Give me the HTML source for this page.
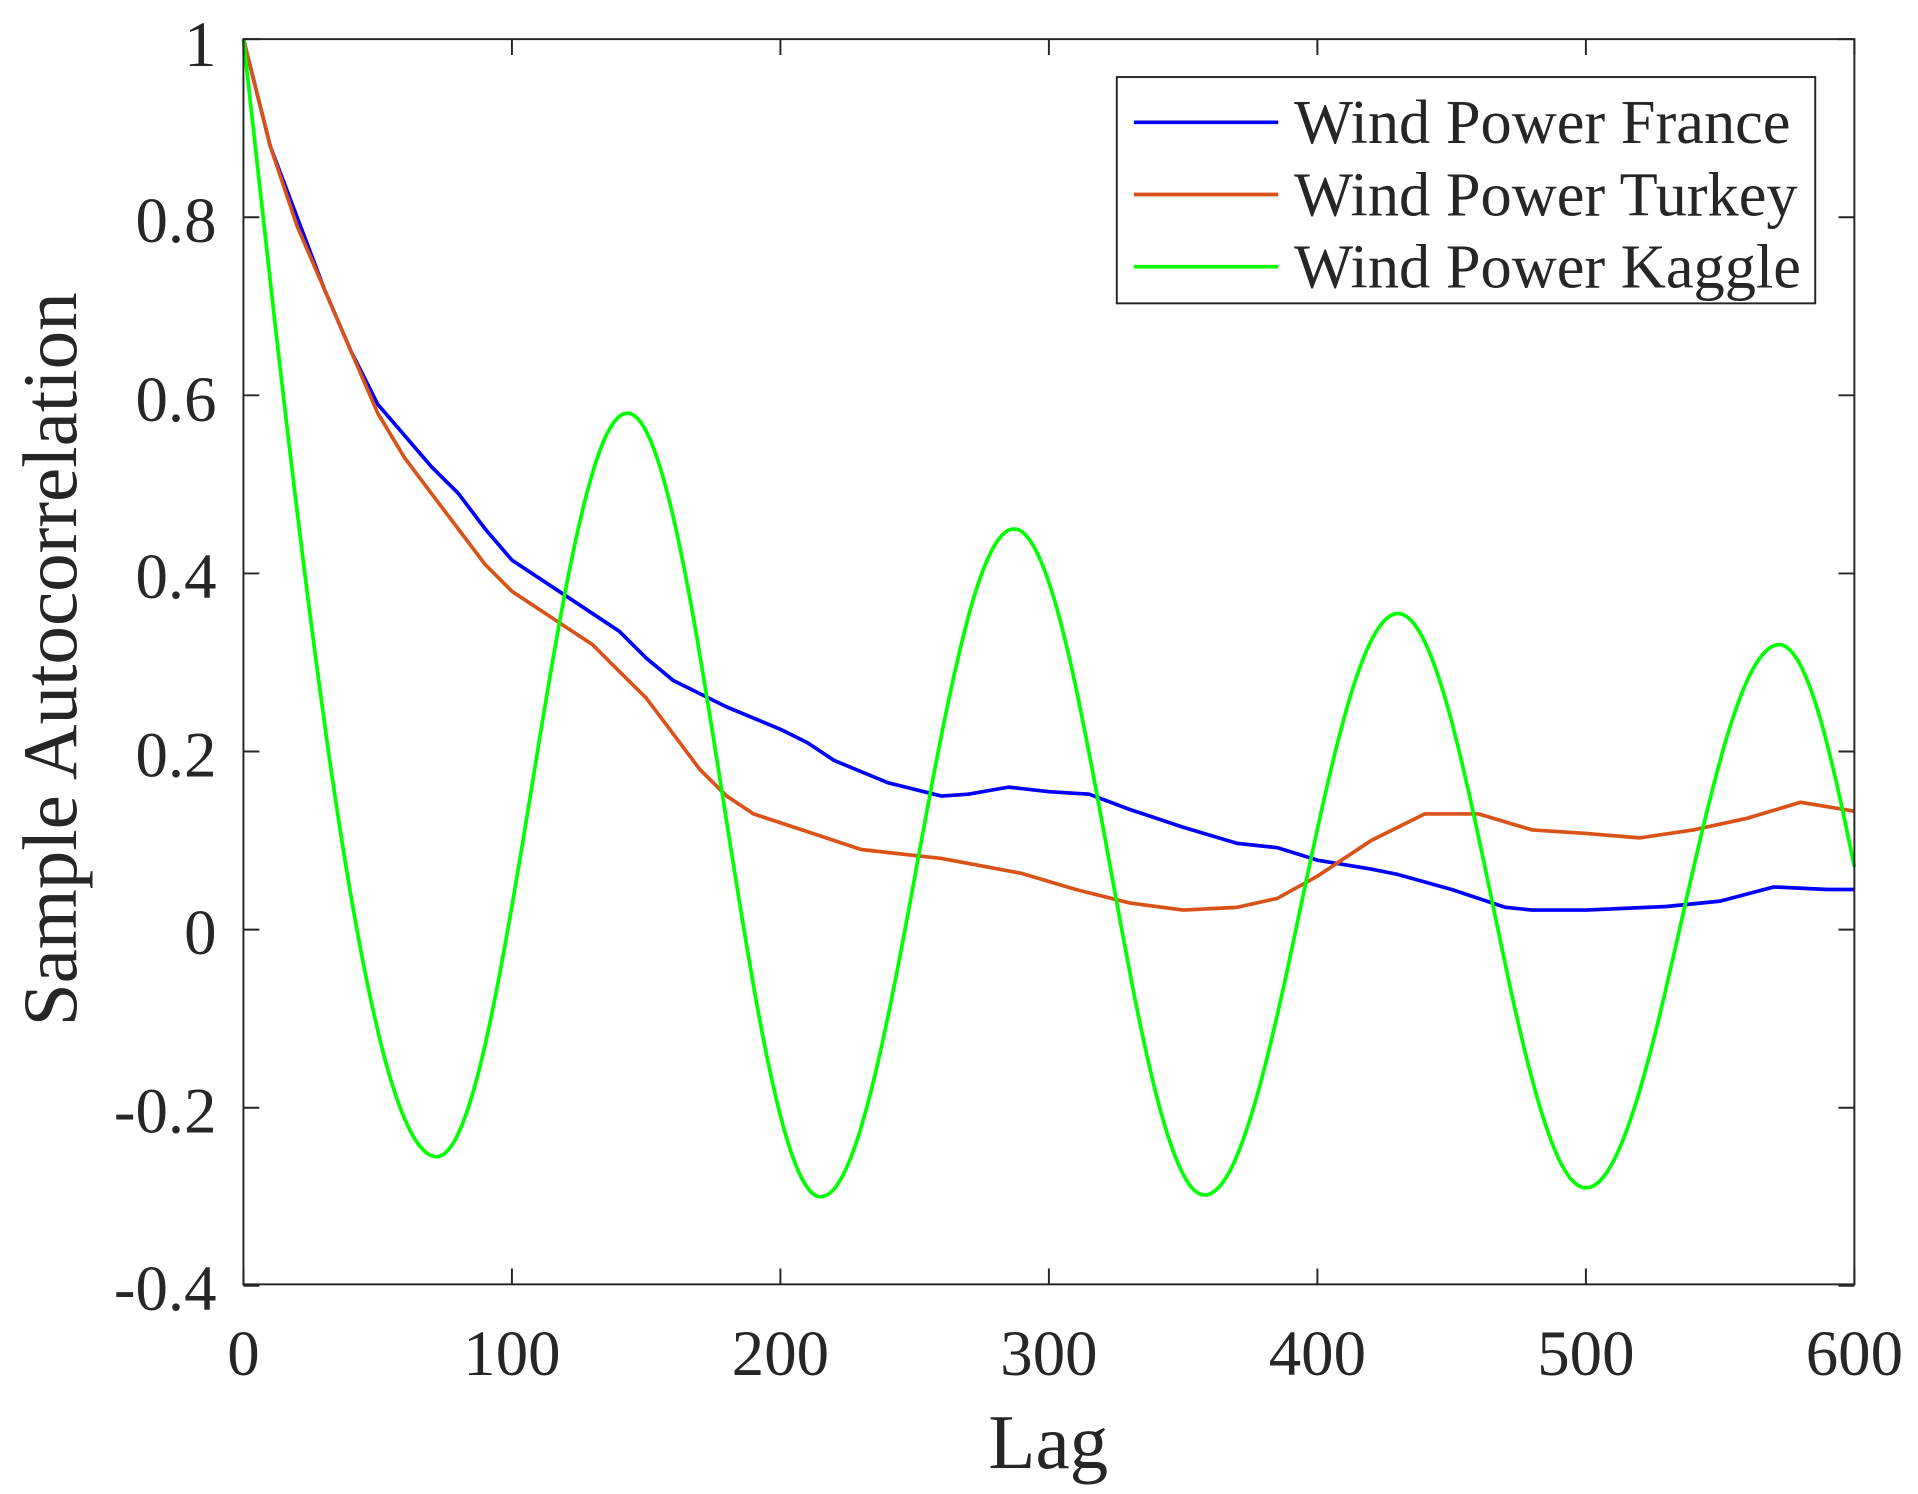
<!DOCTYPE html>
<html><head><meta charset="utf-8"><style>
html,body{margin:0;padding:0;background:#fff;}
svg{display:block;}
text{font-family:"Liberation Serif",serif;fill:#262626;}
</style></head><body>
<svg id="s" width="1918" height="1494" viewBox="0 0 1568 1221.4" xmlns="http://www.w3.org/2000/svg">
<rect x="0" y="0" width="1568" height="1222" fill="#fff"/>
<g id="plot"></g>
<rect x="199" y="32" width="1317" height="1018" fill="none" stroke="#262626" stroke-width="1.6"/>
<g id="ticks" stroke="#262626" stroke-width="1.6"></g>
<g font-size="53" text-anchor="middle">
<text x="199" y="1124">0</text><text x="418.5" y="1124">100</text><text x="638" y="1124">200</text>
<text x="857.5" y="1124">300</text><text x="1077" y="1124">400</text><text x="1296.5" y="1124">500</text><text x="1516" y="1124">600</text>
</g>
<g font-size="53" text-anchor="end">
<text x="177" y="54">1</text><text x="177" y="198">0.8</text><text x="177" y="344">0.6</text>
<text x="177" y="489">0.4</text><text x="177" y="635">0.2</text><text x="177" y="780">0</text>
<text x="177" y="926">-0.2</text><text x="177" y="1071">-0.4</text>
</g>
<text x="857" y="1200" font-size="63" text-anchor="middle">Lag</text>
<text transform="translate(62,539) rotate(-90)" font-size="63" text-anchor="middle">Sample Autocorrelation</text>
<rect x="913" y="63" width="571" height="185" fill="#fff" stroke="#262626" stroke-width="1.6"/>
<line x1="927" y1="100" x2="1045" y2="100" stroke="#0000ff" stroke-width="3"/>
<line x1="927" y1="159" x2="1045" y2="159" stroke="#d95319" stroke-width="3"/>
<line x1="927" y1="218" x2="1045" y2="218" stroke="#00ff00" stroke-width="3"/>
<g font-size="51"><text x="1058" y="117">Wind Power France</text><text x="1058" y="176">Wind Power Turkey</text><text x="1058" y="235">Wind Power Kaggle</text></g>
</svg>
<script>
var X=function(l){return 199+l*1317/600},Y=function(v){return 760-v*728};
function lin(p){var s="";for(var i=0;i<p.length;i+=2)s+=(i?"L":"M")+X(p[i]).toFixed(1)+","+Y(p[i+1]).toFixed(1);return s;}
var fr=[0,1,10,0.88,20,0.8,30,0.72,40,0.65,50,0.59,60,0.555,70,0.52,80,0.49,90,0.45,100,0.415,120,0.375,140,0.335,150,0.305,160,0.28,170,0.265,180,0.25,200,0.225,210,0.21,220,0.19,240,0.165,260,0.15,270,0.152,285,0.16,300,0.155,315,0.152,330,0.135,350,0.115,370,0.097,385,0.092,400,0.078,420,0.068,430,0.062,450,0.045,470,0.025,480,0.022,500,0.022,530,0.026,550,0.032,570,0.048,590,0.045,600,0.045];
var tu=[0,1,10,0.88,20,0.79,30,0.72,40,0.65,50,0.58,60,0.53,70,0.49,80,0.45,90,0.41,100,0.38,120,0.34,130,0.32,140,0.29,150,0.26,160,0.22,170,0.18,180,0.15,190,0.13,210,0.11,230,0.09,260,0.08,290,0.063,310,0.045,330,0.03,350,0.022,370,0.025,385,0.035,400,0.06,420,0.1,440,0.13,460,0.13,480,0.112,500,0.108,520,0.103,540,0.112,560,0.125,580,0.143,600,0.133];
var ex=[[0,1],[72,-0.255],[143,0.58],[215,-0.3],[287,0.45],[358,-0.298],[430,0.355],[500,-0.29],[572,0.32],[636,-0.3]];
var kg=[];for(var l=0;l<=600;l+=1){for(var i=0;i<ex.length-1;i++)if(l<=ex[i+1][0])break;var a=ex[i],b=ex[i+1],t=(l-a[0])/(b[0]-a[0]);
var f=(i==0)?Math.sin(Math.PI/2*t):(1-Math.cos(Math.PI*t))/2;kg.push(l,a[1]+(b[1]-a[1])*f);}
var ns="http://www.w3.org/2000/svg",g=document.getElementById("plot");
[[fr,"#0000ff"],[tu,"#d95319"],[kg,"#00ff00"]].forEach(function(d){var p=document.createElementNS(ns,"path");p.setAttribute("d",lin(d[0]));p.setAttribute("fill","none");p.setAttribute("stroke",d[1]);p.setAttribute("stroke-width","3");p.setAttribute("stroke-linejoin","round");g.appendChild(p);});
var tk=document.getElementById("ticks"),s="";
for(var k=0;k<=6;k++){var x=X(k*100);s+="M"+x+",1050V1037M"+x+",32V45";}
for(var k=0;k<=7;k++){var y=Y(1-k*0.2);s+="M199,"+y+"H212M1516,"+y+"H1503";}
var p=document.createElementNS(ns,"path");p.setAttribute("d",s);tk.appendChild(p);
</script>
</body></html>
